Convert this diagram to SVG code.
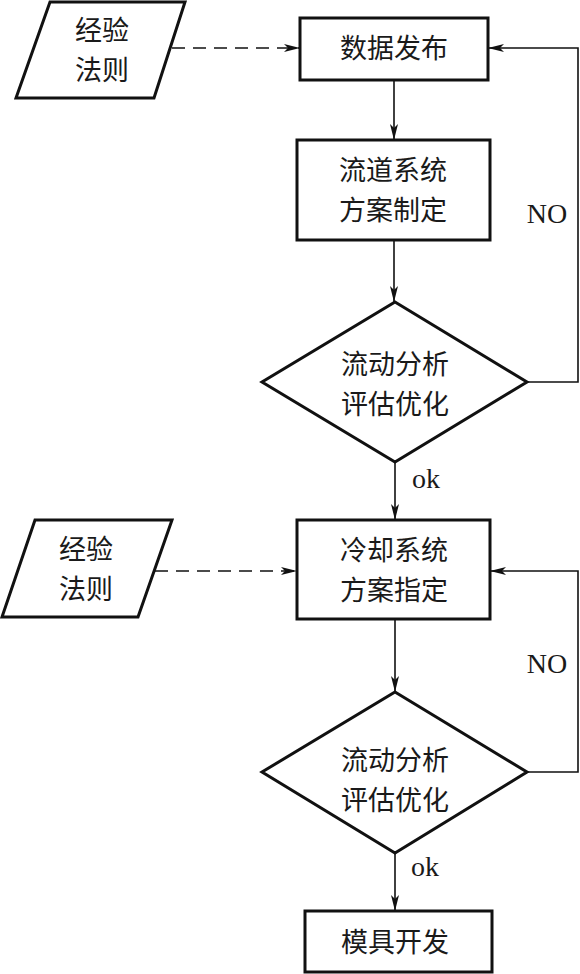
<svg xmlns="http://www.w3.org/2000/svg" width="580" height="974" viewBox="0 0 580 974">
<style>
.shape{fill:#fff;stroke:#111;stroke-width:3;stroke-linejoin:miter}
.cn{font-family:"Noto Sans CJK SC","Noto Sans",sans-serif;font-size:27px;fill:#1a1a1a;text-anchor:middle}
.lat{font-family:"Liberation Serif","Times New Roman",serif;font-size:28px;fill:#1a1a1a;text-anchor:middle}
.line{fill:none;stroke:#111;stroke-width:1.6}
.dash{fill:none;stroke:#111;stroke-width:1.6;stroke-dasharray:13,8}
</style>
<defs>
<marker id="arr" viewBox="0 0 16 8" refX="16" refY="4" markerWidth="16" markerHeight="8" markerUnits="userSpaceOnUse" orient="auto">
<path d="M0,0 L16,4 L0,8 L4,4 Z" fill="#111"/>
</marker>
</defs>
<rect width="580" height="974" fill="#fff"/>
<g id="connectors">
<line class="dash" x1="172" y1="48" x2="300" y2="48" marker-end="url(#arr)"/>
<line class="line" x1="394" y1="80" x2="394" y2="140" marker-end="url(#arr)"/>
<line class="line" x1="394" y1="240" x2="394" y2="302" marker-end="url(#arr)"/>
<polyline class="line" points="527,382 578,382 578,48 488,48" marker-end="url(#arr)"/>
<line class="line" x1="395" y1="462" x2="395" y2="520" marker-end="url(#arr)"/>
<line class="dash" x1="155" y1="571" x2="297" y2="571" marker-end="url(#arr)"/>
<line class="line" x1="395" y1="619" x2="395" y2="692" marker-end="url(#arr)"/>
<polyline class="line" points="527,772 578,772 578,571 490,571" marker-end="url(#arr)"/>
<line class="line" x1="395" y1="853" x2="395" y2="911" marker-end="url(#arr)"/>
<text class="lat" x="547" y="223">NO</text>
<text class="lat" x="547" y="673">NO</text>
<text class="lat" x="426" y="488">ok</text>
<text class="lat" x="425" y="876">ok</text>
</g>
<g id="rule1">
<polygon class="shape" points="50,2 185,2 154,98 16,98"/>
<text class="cn" x="102" y="40">经验</text>
<text class="cn" x="102" y="80">法则</text>
</g>
<g id="publish">
<rect class="shape" x="300" y="18" width="188" height="62"/>
<text class="cn" x="394" y="58">数据发布</text>
</g>
<g id="runner">
<rect class="shape" x="297" y="140" width="193" height="100"/>
<text class="cn" x="393" y="180">流道系统</text>
<text class="cn" x="393" y="220">方案制定</text>
</g>
<g id="analysis1">
<polygon class="shape" points="395,302 527,382 395,462 262,382"/>
<text class="cn" x="395" y="374">流动分析</text>
<text class="cn" x="395" y="414">评估优化</text>
</g>
<g id="rule2">
<polygon class="shape" points="35,520 172,520 138,617 2,617"/>
<text class="cn" x="86" y="559">经验</text>
<text class="cn" x="86" y="599">法则</text>
</g>
<g id="cooling">
<rect class="shape" x="297" y="520" width="193" height="99"/>
<text class="cn" x="394" y="560">冷却系统</text>
<text class="cn" x="394" y="600">方案指定</text>
</g>
<g id="analysis2">
<polygon class="shape" points="395,692 527,772 395,853 262,772"/>
<text class="cn" x="395" y="770">流动分析</text>
<text class="cn" x="395" y="810">评估优化</text>
</g>
<g id="mold">
<rect class="shape" x="305" y="911" width="187" height="61"/>
<text class="cn" x="395" y="952">模具开发</text>
</g>
</svg>
